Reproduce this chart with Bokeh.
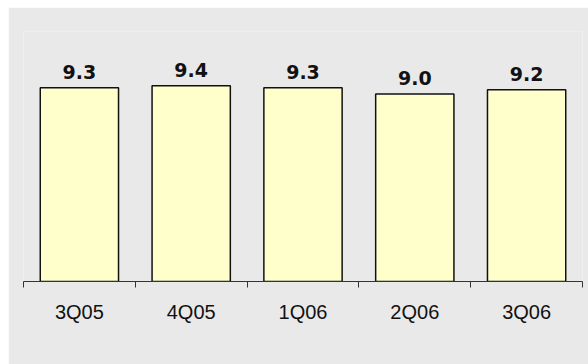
from bokeh.plotting import figure
from bokeh.models import ColumnDataSource, FixedTicker, Range1d
from bokeh.core.properties import value
from bokeh.embed import file_html
from bokeh.resources import INLINE

# Quarterly values
quarters = ["3Q05", "4Q05", "1Q06", "2Q06", "3Q06"]
values = [9.3, 9.4, 9.3, 9.0, 9.2]
value_labels = ["9.3", "9.4", "9.3", "9.0", "9.2"]

centers = [i + 0.5 for i in range(len(quarters))]
source = ColumnDataSource(data=dict(x=centers, top=values, label=value_labels))

BG = "#e9e9e9"

p = figure(
    width=580,
    height=357,
    x_range=Range1d(0, len(quarters)),
    y_range=Range1d(0, 12),
    output_backend="svg",
    toolbar_location=None,
    min_border_left=15,
    min_border_right=6,
    min_border_top=24,
    min_border_bottom=83,
)
p.margin = (7, 0, 0, 8)
p.background_fill_color = BG
p.border_fill_color = BG
p.outline_line_color = None
p.grid.visible = False
p.yaxis.visible = False

# Bars
p.vbar(x="x", top="top", width=0.7, bottom=0, source=source,
       fill_color="#ffffcc", line_color="#111111", line_width=1.5)

# Value labels above bars
p.text(x="x", y="top", text="label", source=source,
       text_align="center", text_baseline="bottom", y_offset=-9,
       text_font=value("DejaVu Sans"), text_font_style="bold",
       text_font_size="19px", text_color="#111111")

# Category axis: labels at centers, ticks at boundaries
xa = p.xaxis[0]
xa.ticker = FixedTicker(ticks=centers, minor_ticks=list(range(len(quarters) + 1)))
xa.major_label_overrides = {c: q for c, q in zip(centers, quarters)}
xa.major_tick_line_color = None
xa.major_tick_in = 0
xa.major_tick_out = 0
xa.minor_tick_in = 0
xa.minor_tick_out = 6
xa.minor_tick_line_color = "#333333"
xa.axis_line_color = "#333333"
xa.axis_line_width = 1
xa.major_label_standoff = 13
xa.major_label_text_font = "Liberation Sans"
xa.major_label_text_font_size = "20px"
xa.major_label_text_color = "#111111"

open("out.html", "w").write(file_html(p, INLINE))
